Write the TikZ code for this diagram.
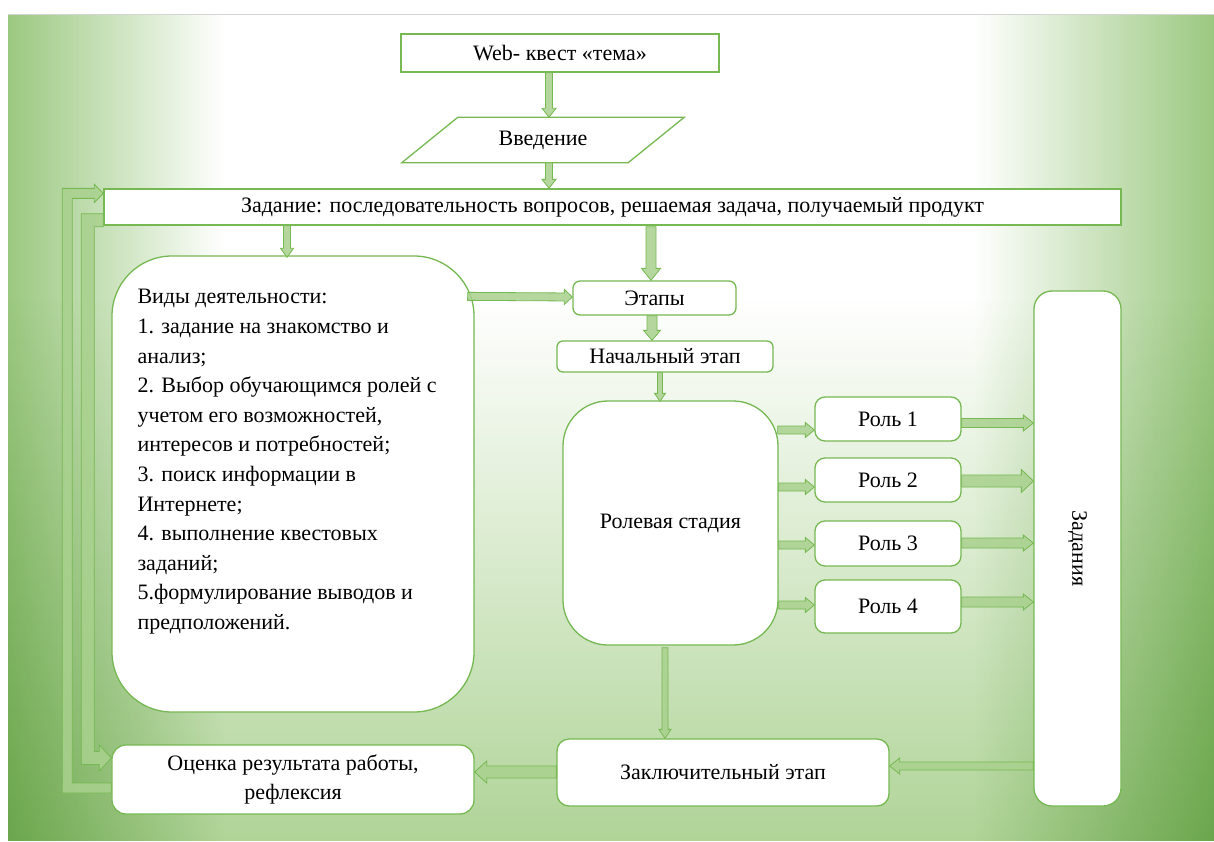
\documentclass[tikz,border=0pt]{standalone}
\usepackage{fontspec}
\setmainfont{Liberation Serif}
\usetikzlibrary{calc}
\definecolor{boxg}{HTML}{76B852}
\definecolor{arrowf}{HTML}{A9D18E}
\definecolor{bgg}{HTML}{9BC880}
\definecolor{bgvc}{HTML}{B0D498}
\definecolor{topline}{HTML}{D4D4D4}
\pgfdeclarehorizontalshading{bgh}{100bp}{color(0bp)=(bgg); color(25bp)=(bgg); color(34bp)=(white); color(65bp)=(white); color(75bp)=(bgg); color(100bp)=(bgg)}
\pgfdeclareverticalshading{bgv}{100bp}{color(0bp)=(bgvc); color(25bp)=(bgvc); color(58bp)=(white); color(100bp)=(white)}
\pgfdeclarelayer{back}
\pgfdeclarelayer{mid}
\pgfsetlayers{back,mid,main}
\tikzset{
  box/.style={draw=boxg, line width=1.3bp, fill=white, inner sep=0pt},
  rbox/.style={box, rounded corners=#1},
  barrow/.style={draw=boxg, line width=0.8bp, fill=arrowf, fill opacity=0.85, line join=miter},
  txt/.style={inner sep=0pt}
}
\newcommand\blockarrow[5]{%
  \coordinate (baA) at (#1);
  \coordinate (baB) at (#2);
  \coordinate (baH) at ($(baB)!#5!(baA)$);
  \draw[barrow] ($(baA)!#3!-90:(baB)$) -- ($(baH)!#3!90:(baA)$) -- ($(baH)!#4!90:(baA)$) -- (baB)
     -- ($(baH)!#4!-90:(baA)$) -- ($(baH)!#3!-90:(baA)$) -- ($(baA)!#3!90:(baB)$) -- cycle;
}
\begin{document}
\begin{tikzpicture}[x=1bp,y=-1bp, every node/.style={font=\fontsize{22bp}{29.6bp}\selectfont}]
\useasboundingbox (0,0) rectangle (1214,842);
\begin{pgfonlayer}{back}
  \fill[white] (0,0) rectangle (1214,842);
  \shade[shading=bgh] (8,15) rectangle (1214,840);
  \begin{scope}[blend mode=multiply]
    \shade[shading=bgv] (8,15) rectangle (1214,840);
  \end{scope}
  \draw[topline, line width=1.5bp] (8,14.5) -- (1214,14.5);
\end{pgfonlayer}

% nodes
\node[box, minimum width=318bp, minimum height=38bp] (web) at (560,53) {Web- квест «тема»};
\node[txt, minimum width=226bp, minimum height=45bp] (vved) at (543,140) {Введение};
\begin{pgfonlayer}{mid}
\draw[box] ($(vved.south west)+(-28,0)$) -- ($(vved.north west)+(28,0)$) -- ($(vved.north east)+(28,0)$) -- ($(vved.south east)+(-28,0)$) -- cycle;
\end{pgfonlayer}
\node[box, minimum width=1017bp, minimum height=36bp] (zad) at (612.5,207) {Задание: последовательность вопросов, решаемая задача, получаемый продукт};
\node[rbox=60bp, minimum width=362bp, minimum height=456bp] (vid) at (293,484) {};
\node[txt, anchor=north west, align=left] (vidtext) at ($(vid.north west)+(26,34)$) {Виды деятельности:\\1. задание на знакомство и\\анализ;\\2. Выбор обучающимся ролей с\\учетом его возможностей,\\интересов и потребностей;\\3. поиск информации в\\Интернете;\\4. выполнение квестовых\\заданий;\\5.формулирование выводов и\\предположений.};
\node[rbox=7bp, minimum width=163bp, minimum height=34bp] (etapy) at (654.5,298) {Этапы};
\node[rbox=6bp, minimum width=216bp, minimum height=31bp] (nach) at (665,356.5) {Начальный этап};
\node[rbox=45bp, minimum width=215bp, minimum height=244bp] (rol) at (670.5,523) {Ролевая стадия};
\node[rbox=10bp, minimum width=146bp, minimum height=44bp] (r1) at (888,419) {Роль 1};
\node[rbox=10bp, minimum width=146bp, minimum height=44bp] (r2) at (888,480) {Роль 2};
\node[rbox=10bp, minimum width=146bp, minimum height=45bp] (r3) at (888,543.5) {Роль 3};
\node[rbox=10bp, minimum width=146bp, minimum height=53bp] (r4) at (888,606.5) {Роль 4};
\node[rbox=18bp, minimum width=515bp, minimum height=87bp, rotate=-90] (zadaniya) at (1077.5,548.5) {Задания};
\node[rbox=12bp, minimum width=332bp, minimum height=67bp] (zakl) at (723,772.5) {Заключительный этап};
\node[rbox=14bp, minimum width=362bp, minimum height=69bp, align=center] (ocen) at (293,779.5) {Оценка результата работы,\\рефлексия};

% arrows
\blockarrow{$(web.south)+(-11,0)$}{$(vved.north)+(6,0)$}{3.5bp}{7bp}{9bp}
\blockarrow{$(vved.south)+(6,0)$}{$(zad.north)+(-63.5,0)$}{3.5bp}{7bp}{9bp}
\blockarrow{$(zad.south)+(-325.5,0)$}{$(vid.north)+(-6,2)$}{3.5bp}{6.5bp}{9bp}
\blockarrow{$(zad.south)+(38.5,1)$}{$(etapy.north)+(-3.5,0)$}{5bp}{9.5bp}{12bp}
\blockarrow{$(vid.north east)+(-7,41)$}{$(etapy.west)+(0,-1)$}{4bp}{7.5bp}{8bp}
\blockarrow{$(etapy.south)+(-2.5,0)$}{$(nach.north)+(-13,0)$}{5bp}{8.5bp}{10bp}
\blockarrow{$(nach.south)+(-5,0)$}{$(rol.north)+(-10.5,1)$}{2.5bp}{5.5bp}{8bp}
\blockarrow{$(rol.east)+(-1,-93)$}{$(r1.west)+(0,11)$}{4bp}{7.5bp}{9bp}
\blockarrow{$(rol.east)+(0,-36)$}{$(r2.west)+(0,7)$}{4bp}{7.5bp}{9bp}
\blockarrow{$(rol.east)+(0,22)$}{$(r3.west)+(0,1.5)$}{4bp}{7.5bp}{9bp}
\blockarrow{$(rol.east)+(0,82)$}{$(r4.west)+(0,-1.5)$}{4bp}{7.5bp}{9bp}
\blockarrow{$(r1.east)+(0,4)$}{$(zadaniya.south)+(0,-125.5)$}{4.5bp}{8bp}{10bp}
\blockarrow{$(r2.east)+(0,1)$}{$(zadaniya.south)+(0,-67.5)$}{6bp}{11.5bp}{12bp}
\blockarrow{$(r3.east)+(0,-0.5)$}{$(zadaniya.south)+(0,-5.5)$}{5bp}{8bp}{10bp}
\blockarrow{$(r4.east)+(0,-4.5)$}{$(zadaniya.south)+(0,53.5)$}{5bp}{8bp}{10bp}
\blockarrow{$(rol.south)+(-5.5,2)$}{$(zakl.north)+(-58,0)$}{3bp}{6bp}{9bp}
\blockarrow{$(zadaniya.south)+(0,217.5)$}{$(zakl.east)+(0,-6.5)$}{4bp}{8bp}{10bp}
\blockarrow{$(zakl.west)+(0,-0.5)$}{$(ocen.east)+(0,-7.5)$}{6bp}{11bp}{12bp}

% left return arrows
\draw[barrow] ($(zad.south west)+(0,-12)$) -- ($(zad.south west)+(-22,-12)$) -- ($(ocen.west)+(-30,-15)$)
  -- ($(ocen.west)+(-12,-15)$) -- ($(ocen.west)+(-12,-8.5)$) -- ($(ocen.west)+(0,-21.5)$)
  -- ($(ocen.west)+(-12,-34.5)$) -- ($(ocen.west)+(-12,-28)$) -- ($(ocen.west)+(-17,-28)$)
  -- ($(zad.south west)+(-9,1)$) -- ($(zad.south west)+(0,1)$) -- cycle;
\draw[barrow] ($(ocen.west)+(0,3.5)$) -- ($(ocen.west)+(-39,3.5)$) -- ($(zad.north west)+(-31,10)$)
  -- ($(zad.north west)+(-9,10)$) -- ($(zad.north west)+(-9,14)$) -- ($(zad.north west)+(0,5)$)
  -- ($(zad.north west)+(-9,-4)$) -- ($(zad.north west)+(-9,0)$) -- ($(zad.north west)+(-41,0)$)
  -- ($(ocen.west)+(-49,13.5)$) -- ($(ocen.west)+(0,13.5)$) -- cycle;
\end{tikzpicture}
\end{document}
